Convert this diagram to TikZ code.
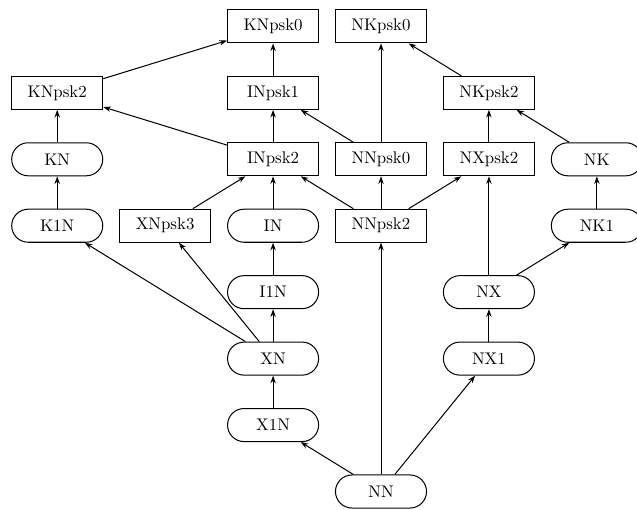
\documentclass[tikz,border=0pt]{standalone}
\usepackage{tikz}
\usetikzlibrary{arrows.meta, positioning}

\begin{document}
\begin{tikzpicture}[
  x=0.593pt, y=0.593pt,
  on grid, node distance=39.4pt and 64pt,
  box/.style={draw, semithick, minimum width=54pt, minimum height=19.6pt,
              inner sep=2pt},
  pill/.style={box, rounded corners=9.8pt},
  arr/.style={-{Stealth[length=4.5pt, width=3.2pt]}, semithick}
]
\useasboundingbox (0,0) rectangle (637,510);

\node[pill] (NN) at (381,18.5) {NN};
\node[pill, above left=of NN] (X1N) {X1N};
\node[pill, above=of X1N] (XN) {XN};
\node[pill, above=of XN] (I1N) {I1N};
\node[pill, above=of I1N] (IN) {IN};
\node[box, above=of IN] (INpsk2) {INpsk2};
\node[box, above=of INpsk2] (INpsk1) {INpsk1};
\node[box, above=of INpsk1] (KNpsk0) {KNpsk0};
\node[box, left=of IN] (XNpsk3) {XNpsk3};
\node[pill, left=of XNpsk3] (K1N) {K1N};
\node[pill, above=of K1N] (KN) {KN};
\node[box, above=of KN] (KNpsk2) {KNpsk2};
\node[box, right=of IN] (NNpsk2) {NNpsk2};
\node[box, above=of NNpsk2] (NNpsk0) {NNpsk0};
\node[box, right=of KNpsk0] (NKpsk0) {NKpsk0};
\node[box, right=of NNpsk0] (NXpsk2) {NXpsk2};
\node[box, above=of NXpsk2] (NKpsk2) {NKpsk2};
\node[pill, right=of NXpsk2] (NK) {NK};
\node[pill, below=of NK] (NK1) {NK1};
\node[pill, below=2*39.4pt of NXpsk2] (NX) {NX};
\node[pill, below=of NX] (NX1) {NX1};

\draw[arr] (KNpsk2) -- (KNpsk0);
\draw[arr] (INpsk1) -- (KNpsk0);
\draw[arr] (NNpsk0) -- (INpsk1);
\draw[arr] (INpsk2) -- (INpsk1);
\draw[arr] (INpsk2) -- (KNpsk2);
\draw[arr] (KN) -- (KNpsk2);
\draw[arr] (K1N) -- (KN);
\draw[arr] (XNpsk3) -- (INpsk2);
\draw[arr] (IN) -- (INpsk2);
\draw[arr] (NNpsk2) -- (INpsk2);
\draw[arr] (NNpsk0) -- (NKpsk0);
\draw[arr] (NNpsk2) -- (NNpsk0);
\draw[arr] (NNpsk2) -- (NXpsk2);
\draw[arr] (NKpsk2) -- (NKpsk0);
\draw[arr] (NXpsk2) -- (NKpsk2);
\draw[arr] (NK) -- (NKpsk2);
\draw[arr] (NK1) -- (NK);
\draw[arr] (NX) -- (NK1);
\draw[arr] (NX) -- (NXpsk2);
\draw[arr] (NX1) -- (NX);
\draw[arr] (NN) -- (NX1);
\draw[arr] (NN) -- (NNpsk2);
\draw[arr] (NN) -- (X1N);
\draw[arr] (X1N) -- (XN);
\draw[arr] (XN) -- (I1N);
\draw[arr] (I1N) -- (IN);
\draw[arr] (XN) -- (K1N);
\draw[arr] (XN) -- (XNpsk3);
\end{tikzpicture}
\end{document}
